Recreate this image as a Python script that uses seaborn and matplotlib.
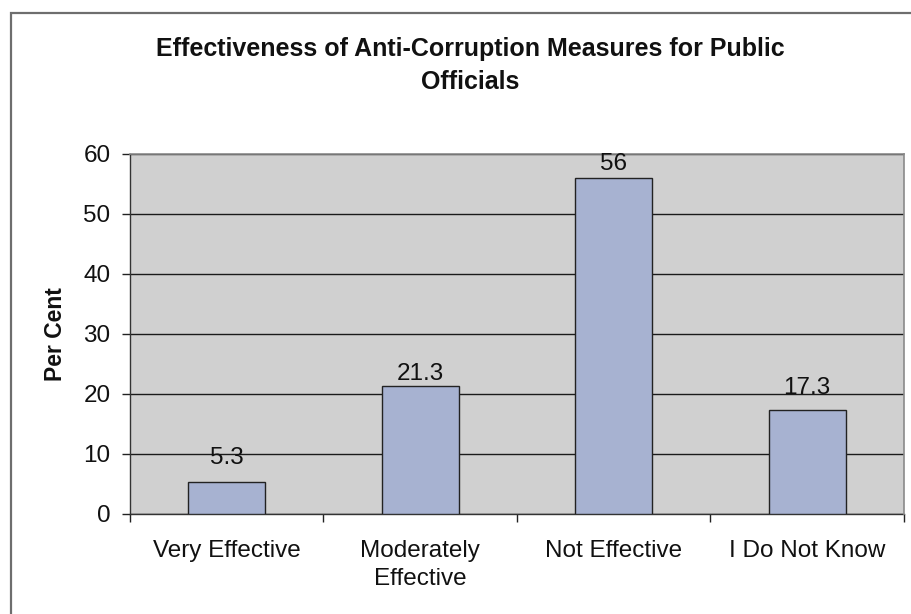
import matplotlib
matplotlib.use("Agg")
import matplotlib.pyplot as plt
import matplotlib.patches as mpatches
from matplotlib.ticker import FixedLocator, MultipleLocator
import seaborn as sns
import pandas as pd

categories = ["Very Effective", "Moderately\nEffective", "Not Effective", "I Do Not Know"]
values = [5.3, 21.3, 56, 17.3]
value_labels = ["5.3", "21.3", "56", "17.3"]
title = "Effectiveness of Anti-Corruption Measures for Public\nOfficials"
ylabel = "Per Cent"

sns.set_theme(style="white")
plt.rcParams["font.family"] = ["Liberation Sans", "DejaVu Sans"]

df = pd.DataFrame({"category": categories, "value": values})

fig = plt.figure(figsize=(9.11, 6.14), dpi=100)
ax = fig.add_axes([0.1427, 0.1629, 0.8496, 0.5863])
ax.set_facecolor("#d0d0d0")

sns.barplot(data=df, x="category", y="value", hue="category",
            palette=["#a0aed8"] * len(categories), legend=False,
            width=0.4, edgecolor="#222222", linewidth=1.0, ax=ax, zorder=3)

ax.set_xlim(-0.5, len(categories) - 0.5)
ax.set_ylim(0, 60)
ax.yaxis.set_major_locator(MultipleLocator(10))
ax.grid(axis="y", color="#1a1a1a", linewidth=1.0, zorder=1)
ax.set_axisbelow(True)

# category boundaries carry the x ticks
ax.xaxis.set_minor_locator(FixedLocator([i - 0.5 for i in range(len(categories) + 1)]))
ax.tick_params(axis="x", which="major", length=0, pad=19, labelsize=17.5, colors="#111111")
ax.tick_params(axis="x", which="minor", length=6, width=1, direction="out",
               color="#222222", bottom=True)
ax.tick_params(axis="y", which="major", length=6, width=1, direction="out",
               color="#222222", pad=8, labelsize=17.5, left=True, labelcolor="#111111")
for lbl in ax.get_xticklabels():
    lbl.set_linespacing(1.35)

for side in ["left", "bottom"]:
    ax.spines[side].set_color("#333333")
    ax.spines[side].set_linewidth(1.0)
for side in ["top", "right"]:
    ax.spines[side].set_color("#8a8a8a")
    ax.spines[side].set_linewidth(1.2)
    ax.spines[side].set_zorder(4)

ax.set_xlabel("")
ax.set_ylabel(ylabel, fontsize=16.5, fontweight="bold", labelpad=12, color="#111111")

label_pads = [9.5, 1.0, 2.5, 8.0]
for cont, lab, pad in zip(ax.containers, value_labels, label_pads):
    texts = ax.bar_label(cont, labels=[lab], padding=pad, fontsize=17.5, color="#111111")
    for t in texts:
        t.set_zorder(6)

fig.text(0.516, 0.939, title, ha="center", va="top", fontsize=18,
         fontweight="bold", linespacing=1.45, color="#111111")

# chart frame
fig.patches.append(mpatches.Rectangle((11 / 911, -0.05), 1.05, 1 - 13 / 614 + 0.05,
                                      transform=fig.transFigure, fill=False,
                                      edgecolor="#6e6e6e", linewidth=1.6))

fig.savefig("out.png", dpi=100)
